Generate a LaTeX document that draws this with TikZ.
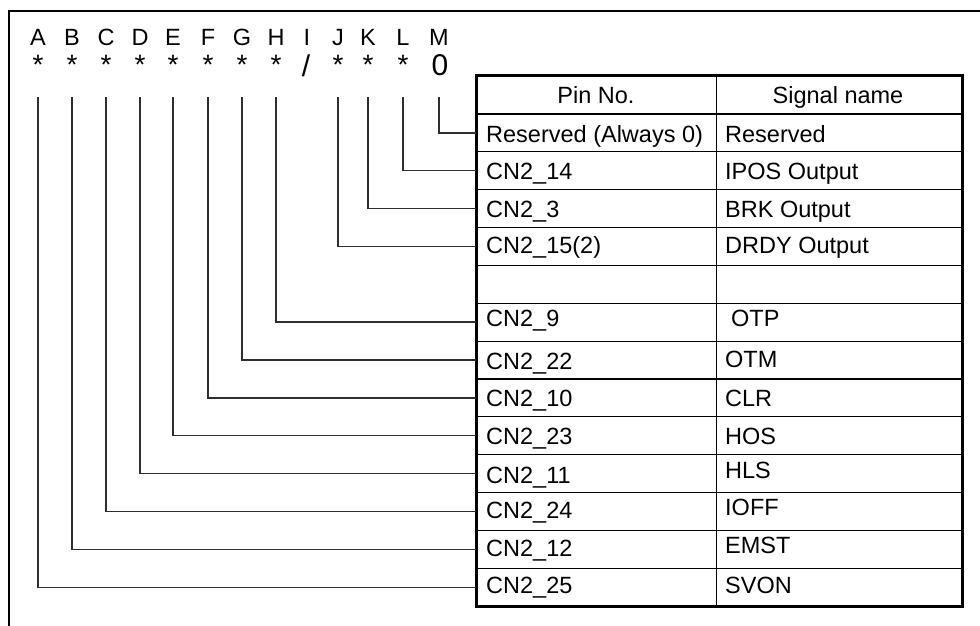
\documentclass[tikz,border=0pt]{standalone}
\usepackage{fontspec}
\setmainfont{Liberation Sans}
\begin{document}
\begin{tikzpicture}[x=1pt,y=-1pt,
  txt/.style={font=\fontsize{23.5}{28}\selectfont, inner sep=0pt},
  startxt/.style={font=\fontsize{28}{30}\selectfont, inner sep=0pt},
  bigtxt/.style={font=\fontsize{30}{32}\selectfont, inner sep=0pt},
  cellbox/.style={draw, line width=1.2pt, minimum height=37.86pt, inner sep=0pt, anchor=north west},
  conn/.style={draw, line width=1.4pt, color=black!82},
  frameline/.style={line width=2.8pt},
  tableborder/.style={line width=3pt}]
\useasboundingbox (0,0) rectangle (980,625);
% outer frame (extends beyond picture)
\coordinate (fTR) at (985,11);
\coordinate (fTL) at (9,11);
\coordinate (fBL) at (9,630);
\draw[frameline] (fTR) -- (fTL) -- (fBL);
% letters
\foreach \n/\x in {A/38,B/72,C/106,D/140,E/173,F/208,G/242,H/276,I/307,J/338,K/368,L/403,M/439}{
  \node[txt, anchor=base] (l\n) at (\x,45.8) {\n};
  \coordinate (c\n) at (\x,97);
}
\foreach \n/\x in {A/38,B/72,C/106,D/140,E/173,F/208,G/242,H/276,J/338,K/368,L/403}{
  \node[startxt, anchor=base] (st\n) at (\x,74) {*};
}
\node[bigtxt, anchor=base] (slI) at (306,76.3) {/};
\node[bigtxt, anchor=base] (zM) at (440,75) {0};
% header
\node[cellbox, minimum width=240pt] (h1) at (476,75.5) {};
\node[cellbox, minimum width=245pt] (h2) at (716,75.5) {};
\node[txt, anchor=base] (ht1) at (596,103.5) {Pin No.};
\node[txt, anchor=base] (ht2) at (838,103.5) {Signal name};
% rows
\foreach \i/\pin/\po/\sig/\so in {
  1/Reserved (Always 0)/29/Reserved/29,
  2/CN2\_14/28/IPOS Output/28,
  3/CN2\_3/28/BRK Output/28,
  4/CN2\_15(2)/27/DRDY Output/27,
  5/{}/27/{}/27,
  6/CN2\_9/24/{\hspace{6pt}OTP}/24,
  7/CN2\_22/29/OTM/27,
  8/CN2\_10/28/CLR/28,
  9/CN2\_23/28/HOS/28,
  10/CN2\_11/29/HLS/24,
  11/CN2\_24/27/IOFF/24,
  12/CN2\_12/27/EMST/24,
  13/CN2\_25/26/SVON/26}{
  \pgfmathsetmacro\rtop{75.5+\i*37.86}
  \node[cellbox, minimum width=240pt] (p\i) at (476,\rtop) {};
  \node[cellbox, minimum width=245pt] (s\i) at (716,\rtop) {};
  \node[txt, anchor=base west] (pt\i) at (486,\rtop+\po) {\pin};
  \node[txt, anchor=base west] (stx\i) at (725,\rtop+\so) {\sig};
}
\draw[tableborder] (h1.north west) rectangle (s13.south east);
% connectors
\draw[conn] (cM) |- (p1.west);
\draw[conn] (cL) |- (p2.west);
\draw[conn] (cK) |- (p3.west);
\draw[conn] (cJ) |- (p4.west);
\draw[conn] (cH) |- (p6.west);
\draw[conn] (cG) |- (p7.west);
\draw[conn] (cF) |- (p8.west);
\draw[conn] (cE) |- (p9.west);
\draw[conn] (cD) |- (p10.west);
\draw[conn] (cC) |- (p11.west);
\draw[conn] (cB) |- (p12.west);
\draw[conn] (cA) |- (p13.west);
\end{tikzpicture}
\end{document}
